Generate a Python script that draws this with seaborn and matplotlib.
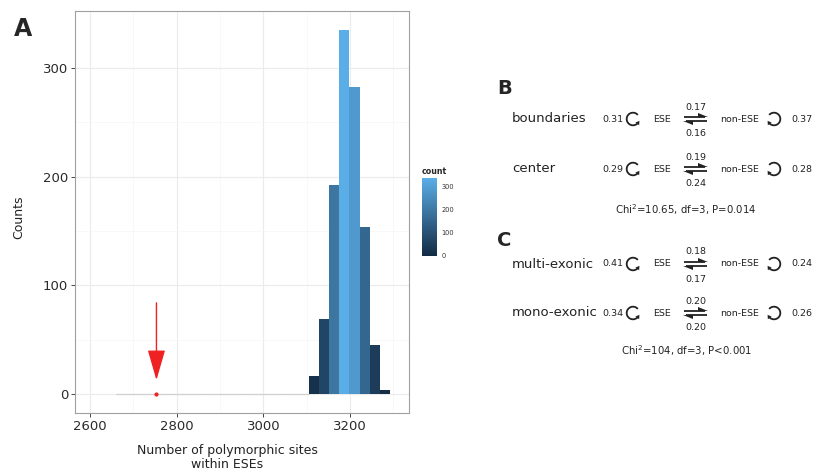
import numpy as np
import pandas as pd
import matplotlib
matplotlib.use("Agg")
import matplotlib.pyplot as plt
import seaborn as sns
from matplotlib.colors import LinearSegmentedColormap, Normalize
from matplotlib.cm import ScalarMappable
from matplotlib.patches import Arc, Polygon

# ---------------- data ----------------
bin_start = 2660.4
bin_width = 23.4
counts = [0, 0, 0, 0, 0, 0, 0, 0, 0, 0, 0, 0, 0, 0, 0, 0, 0, 0, 0,
          17, 69, 192, 335, 282, 154, 45, 4]
observed = 2753

x_ticks = [2600, 2800, 3000, 3200]
y_ticks = [0, 100, 200, 300]
cbar_ticks = [0, 100, 200, 300]

rows = ["boundaries", "center", "multi-exonic", "mono-exonic"]
self_ese = ["0.31", "0.29", "0.41", "0.34"]
self_non = ["0.37", "0.28", "0.24", "0.26"]
ese_to_non = ["0.17", "0.19", "0.18", "0.20"]
non_to_ese = ["0.16", "0.24", "0.17", "0.20"]
chi_texts = [r"Chi$^2$=10.65, df=3, P=0.014", r"Chi$^2$=104, df=3, P<0.001"]

# ---------------- figure ----------------
W, H = 823, 472
sns.set_theme(style="white")
plt.rcParams["font.family"] = ["DejaVu Sans"]
fig = plt.figure(figsize=(W / 100, H / 100), dpi=100)

ax = fig.add_axes([75 / W, 59 / H, 334 / W, 402 / H])
n_bins = len(counts)
centers = bin_start + bin_width * (np.arange(n_bins) + 0.5)
df = pd.DataFrame({"sites": centers, "count": counts})
sns.histplot(data=df, x="sites", weights="count", bins=n_bins,
             binrange=(bin_start, bin_start + n_bins * bin_width), ax=ax,
             linewidth=0, alpha=1)

cmap = LinearSegmentedColormap.from_list("gg", ["#132B43", "#5AAEE8"])
norm = Normalize(0, max(counts))
for p, c in zip(ax.patches, counts):
    if c > 0:
        p.set_facecolor(cmap(norm(c)))
        p.set_edgecolor("none")
    else:
        p.set_facecolor("none")
        p.set_edgecolor("#CFCFCF")
        p.set_linewidth(0.9)

ax.set_xlim(2565, 3336)
ax.set_ylim(-17.2, 352)
ax.set_xticks(x_ticks)
ax.set_yticks(y_ticks)
ax.set_xticks([2700, 2900, 3100, 3300], minor=True)
ax.set_yticks([50, 150, 250], minor=True)
ax.set_axisbelow(True)
ax.grid(which="major", color="#EBEBEB", lw=0.8)
ax.grid(which="minor", color="#F5F5F5", lw=0.5)
for s in ax.spines.values():
    s.set_color("#A0A0A0")
    s.set_linewidth(0.8)
ax.tick_params(which="major", direction="out", length=3, width=0.7,
               color="#444444", labelsize=9.5, labelcolor="#2A2A2A",
               bottom=True, left=True, pad=2)
ax.tick_params(which="minor", length=0)

ax.scatter([observed], [0], s=9, color="#EE2222", zorder=5, linewidths=0)
ax.annotate("", xy=(observed, 13), xytext=(observed, 84),
            arrowprops=dict(arrowstyle="-|>,head_length=1.9,head_width=0.55",
                            color="#EE2222", lw=1.0, mutation_scale=10,
                            shrinkA=0, shrinkB=0))

ax.set_xlabel("Number of polymorphic sites\nwithin ESEs", fontsize=9,
              color="#222222", linespacing=1.1)
ax.xaxis.set_label_coords(0.455, -0.077)
ax.set_ylabel("Counts", fontsize=9, color="#222222")
ax.yaxis.set_label_coords(-0.15, 0.4876)

# colorbar
cax = fig.add_axes([422 / W, (H - 256) / H, 15 / W, 78 / H])
cb = fig.colorbar(ScalarMappable(norm=norm, cmap=cmap), cax=cax)
cb.set_ticks(cbar_ticks)
cb.outline.set_visible(False)
cax.tick_params(length=3, width=0.6, color="white", direction="in",
                left=True, right=True, labelleft=False, labelright=True,
                labelsize=4.8, labelcolor="#333333", pad=3)

# ---------------- overlay (annotations in pixels) ----------------
ov = fig.add_axes([0, 0, 1, 1], zorder=5)
ov.set_xlim(0, W)
ov.set_ylim(H, 0)
ov.axis("off")
ov.patch.set_alpha(0)

ov.text(14, 36, "A", fontsize=17, fontweight="bold", va="baseline")
ov.text(422, 172, "count", fontsize=5.7, fontweight="bold", va="center")
ov.text(497, 89, "B", fontsize=14, fontweight="bold", va="center")
ov.text(497, 240, "C", fontsize=14, fontweight="bold", va="center")

row_y = [119, 169, 264, 313]
col = "#222222"
sm = 6.8


def loop(xc, yc, left=True):
    r = 6.3
    if left:
        t1, t2, t_end = 35, 320, 35
        d = np.array([np.sin(np.radians(t_end)), -np.cos(np.radians(t_end))])
    else:
        t1, t2, t_end = -140, 145, 145
        d = np.array([-np.sin(np.radians(t_end)), np.cos(np.radians(t_end))])
    ov.add_patch(Arc((xc, yc), 2 * r, 2 * r, theta1=t1, theta2=t2,
                     color=col, lw=1.3))
    e = np.array([xc + r * np.cos(np.radians(t_end)),
                  yc + r * np.sin(np.radians(t_end))])
    nrm = np.array([np.cos(np.radians(t_end)), np.sin(np.radians(t_end))])
    tip = e + d * 2.2
    b = e - d * 1.6
    ov.add_patch(Polygon([tip, b + nrm * 2.3, b - nrm * 2.3], closed=True,
                         color=col, lw=0))


def harpoons(x0, x1, y):
    ov.plot([x0, x1 - 2], [y - 2.3, y - 2.3], color=col, lw=1.3,
            solid_capstyle="butt")
    ov.add_patch(Polygon([(x1 + 1, y - 1.6), (x1 - 9, y - 1.6),
                          (x1 - 9, y - 6.0)], closed=True, color=col, lw=0))
    ov.plot([x0 + 2, x1], [y + 2.3, y + 2.3], color=col, lw=1.3,
            solid_capstyle="butt")
    ov.add_patch(Polygon([(x0 - 1, y + 1.6), (x0 + 9, y + 1.6),
                          (x0 + 9, y + 6.0)], closed=True, color=col, lw=0))


for lab, y, a, b, up, dn in zip(rows, row_y, self_ese, self_non,
                                ese_to_non, non_to_ese):
    ov.text(512, y, lab, fontsize=9.5, color=col, va="center")
    ov.text(602, y, a, fontsize=sm, color=col, va="center")
    loop(633, y, left=True)
    ov.text(662, y, "ESE", fontsize=sm, color=col, va="center", ha="center")
    harpoons(684, 707, y)
    ov.text(695.5, y - 12, up, fontsize=sm, color=col, va="center", ha="center")
    ov.text(695.5, y + 15, dn, fontsize=sm, color=col, va="center", ha="center")
    ov.text(740, y, "non-ESE", fontsize=sm, color=col, va="center", ha="center")
    loop(774, y, left=False)
    ov.text(791, y, b, fontsize=sm, color=col, va="center")

ov.text(686, 210, chi_texts[0], fontsize=7.3, color=col, va="center", ha="center")
ov.text(687, 351, chi_texts[1], fontsize=7.3, color=col, va="center", ha="center")

fig.savefig("out.png", dpi=100)
